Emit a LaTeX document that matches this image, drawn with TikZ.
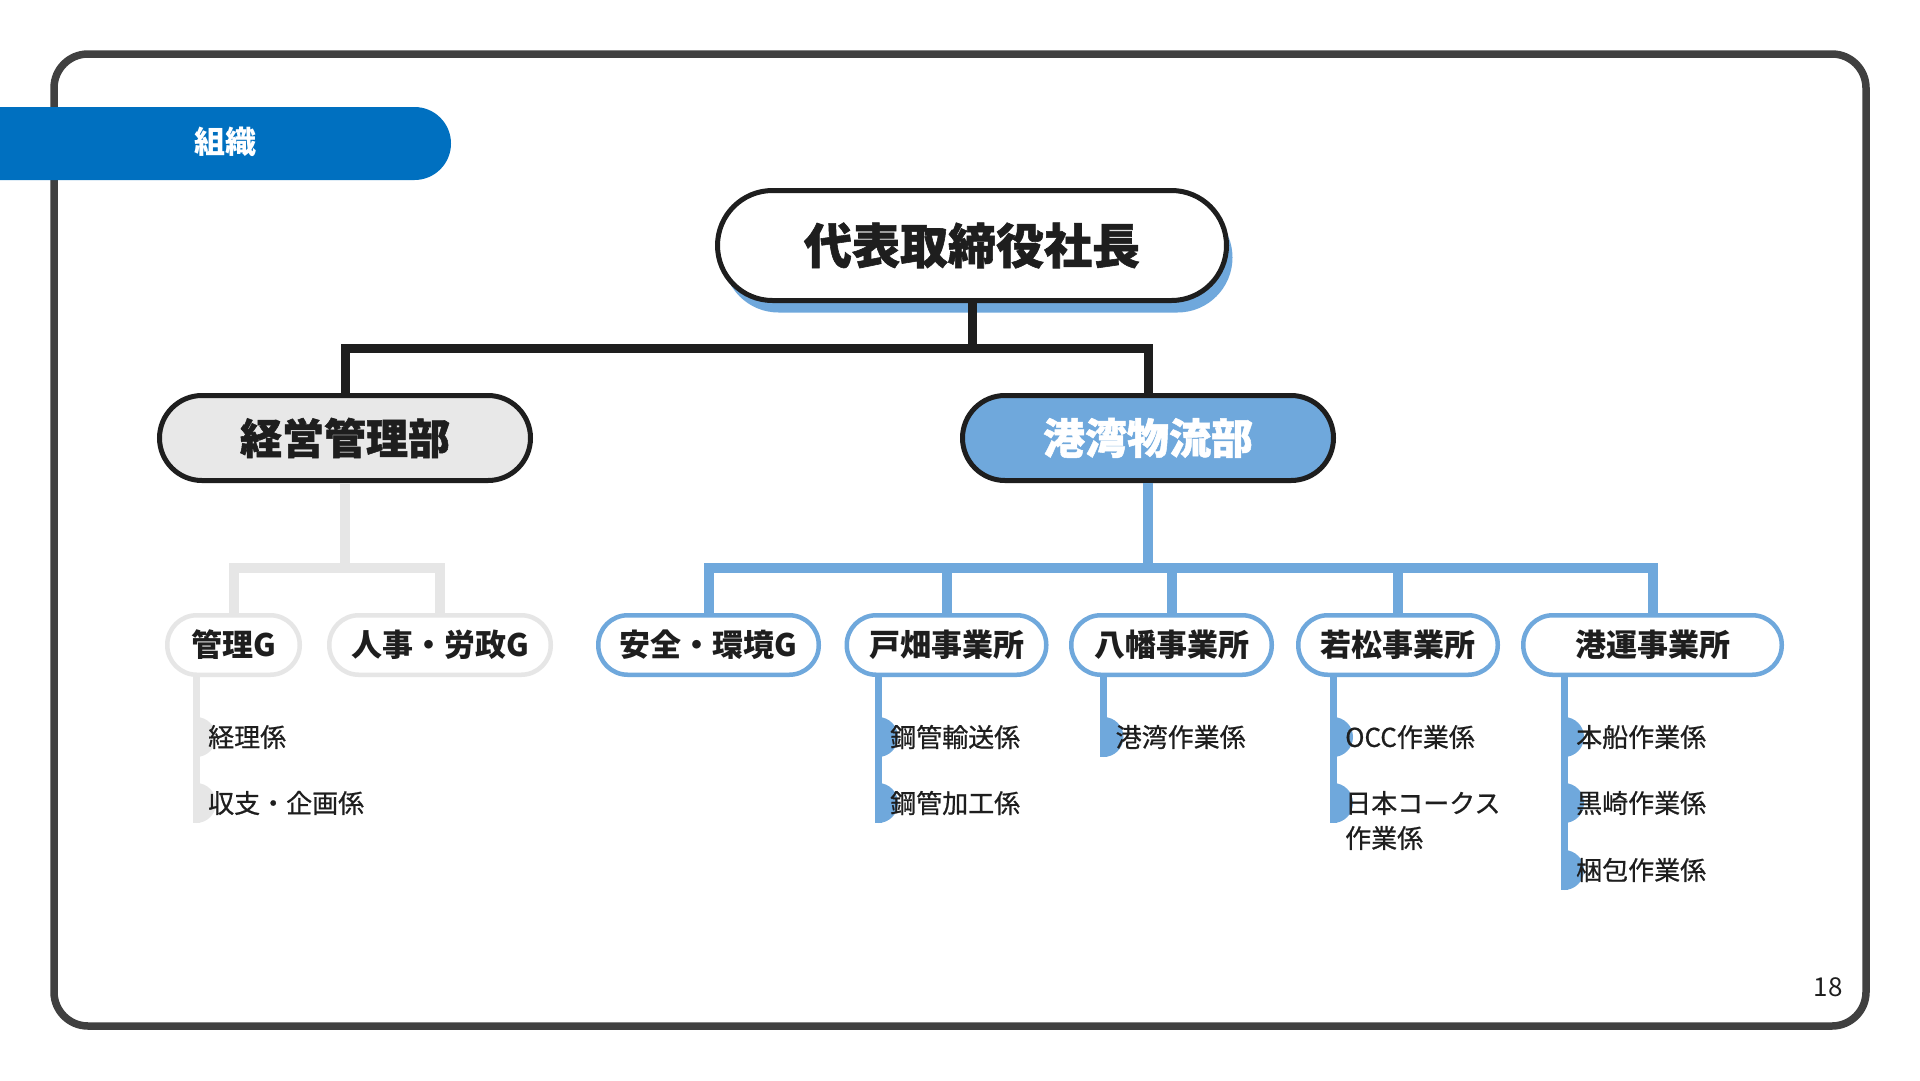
\documentclass[tikz,border=0pt]{standalone}
\usepackage{fontspec}
\setmainfont{Noto Sans CJK JP}
\newfontfamily\jpheavy{Noto Sans CJK JP}[FakeBold=1.2]
\newfontfamily\jpmed{Noto Sans CJK JP}[FakeBold=0.7]
\usetikzlibrary{calc,shadows}
\definecolor{framec}{HTML}{404040}
\definecolor{tabblue}{HTML}{0070C0}
\definecolor{lblue}{HTML}{6FA8DC}
\definecolor{lgray}{HTML}{E6E6E6}
\definecolor{fillgray}{HTML}{E8E8E8}
\definecolor{ink}{HTML}{1E1E1E}
\begin{document}
\begin{tikzpicture}[x=1pt,y=-1pt,
  ceobox/.style={draw=ink, line width=5pt, fill=white, rounded corners=55pt,
    minimum width=509pt, minimum height=110pt, inner sep=0pt, text=ink,
    font=\jpheavy\bfseries\fontsize{48}{56}\selectfont,
    general shadow={fill=lblue, shadow xshift=6pt, shadow yshift=-12pt}},
  deptbox/.style={draw=ink, line width=5pt, rounded corners=42.5pt,
    minimum width=371pt, minimum height=85pt, inner sep=0pt,
    font=\jpheavy\bfseries\fontsize{42}{50}\selectfont},
  unitbox/.style={line width=4.5pt, fill=white, rounded corners=29.5pt,
    minimum height=59.5pt, inner sep=0pt, text=ink,
    font=\bfseries\fontsize{31}{36}\selectfont},
  leaftext/.style={anchor=west, inner sep=0pt, text=ink, align=left,
    font=\jpmed\fontsize{26}{35}\selectfont},
  blk/.style={draw=ink, line width=9pt},
  bluec/.style={draw=lblue, line width=10pt},
  grayc/.style={draw=lgray, line width=10pt},
  leafline/.style={line width=7pt},
]
\useasboundingbox (0,0) rectangle (1920,1080);
\fill[white] (0,0) rectangle (1920,1080);

% frame
\draw[framec, line width=7.5pt, rounded corners=34pt] (54,54) rectangle (1866,1026);

% tab
\fill[tabblue, rounded corners=36.5pt] (-60,107) rectangle (451,180);
\node[text=white, font=\bfseries\fontsize{31}{36}\selectfont, inner sep=0pt] (tabtext) at (225,142) {組織};

% page number
\node[text=ink, font=\fontsize{26}{30}\selectfont, inner sep=0pt] (pageno) at (1828,987) {18};

% main nodes
\node[ceobox] (ceo) at (972,245.5) {代表取締役社長};
\node[deptbox, fill=fillgray, text=ink] (kei) at (345,438) {経営管理部};
\node[deptbox, fill=lblue, text=white] (kowan) at (1148,438) {港湾物流部};

% level 3
\node[unitbox, draw=lgray, minimum width=132.5pt] (kanri) at (233.5,645) {管理G};
\node[unitbox, draw=lgray, minimum width=221.5pt] (jinji) at (440,645) {人事・労政G};
\node[unitbox, draw=lblue, minimum width=220.5pt] (anzen) at (708.5,645) {安全・環境G};
\node[unitbox, draw=lblue, minimum width=199.5pt] (tobata) at (946.5,645) {戸畑事業所};
\node[unitbox, draw=lblue, minimum width=200.5pt] (yahata) at (1171.5,645) {八幡事業所};
\node[unitbox, draw=lblue, minimum width=199.5pt] (waka) at (1398,645) {若松事業所};
\node[unitbox, draw=lblue, minimum width=258.5pt] (kouun) at (1652.5,645) {港運事業所};

% black connectors
\coordinate (j1) at (972,348);
\draw[blk] (ceo.south) -- (j1);
\draw[blk] (kei.north) |- (j1) -| (kowan.north);

% gray connectors
\coordinate (j2) at (345,568);
\draw[grayc] (kei.south) -- (j2);
\draw[grayc] (kanri.north) |- (j2) -| (jinji.north);

% blue connectors
\coordinate (j3) at (1148,568);
\draw[bluec] (kowan.south) -- (j3);
\draw[bluec] (anzen.north) |- (j3) -| (kouun.north);
\draw[bluec] (tobata.north) -- (tobata.north |- j3);
\draw[bluec] (yahata.north) -- (yahata.north |- j3);
\draw[bluec] (waka.north) -- (waka.north |- j3);

% leaf columns
\coordinate (kanriE) at (196,823);
\coordinate (tobataE) at (878,823);
\coordinate (yahataE) at (1103.5,757);
\coordinate (wakaE) at (1333,823);
\coordinate (kouunE) at (1564,890);

\draw[leafline, lgray] (kanri.south -| kanriE) -- (kanriE);
\draw[leafline, lblue] (tobata.south -| tobataE) -- (tobataE);
\draw[leafline, lblue] (yahata.south -| yahataE) -- (yahataE);
\draw[leafline, lblue] (waka.south -| wakaE) -- (wakaE);
\draw[leafline, lblue] (kouun.south -| kouunE) -- (kouunE);

% bumps
\foreach \c/\x/\y in {lgray/196/737, lgray/196/803,
  lblue/878/737, lblue/878/803,
  lblue/1103.5/737,
  lblue/1333/737, lblue/1333/803,
  lblue/1564/737, lblue/1564/803, lblue/1564/870}{
  \fill[\c] (\x,\y-20) arc[start angle=-90, end angle=90, radius=20] -- cycle;
}

% leaf texts
\node[leaftext] (k1) at (208,737) {経理係};
\node[leaftext] (k2) at (208,803) {収支・企画係};
\node[leaftext] (t1) at (890,737) {鋼管輸送係};
\node[leaftext] (t2) at (890,803) {鋼管加工係};
\node[leaftext] (y1) at (1115.5,737) {港湾作業係};
\node[leaftext] (w1) at (1345,737) {OCC作業係};
\node[leaftext] (w2) at (1345,820.5) {日本コークス\\作業係};
\node[leaftext] (u1) at (1576,737) {本船作業係};
\node[leaftext] (u2) at (1576,803) {黒崎作業係};
\node[leaftext] (u3) at (1576,870) {梱包作業係};
\end{tikzpicture}
\end{document}
